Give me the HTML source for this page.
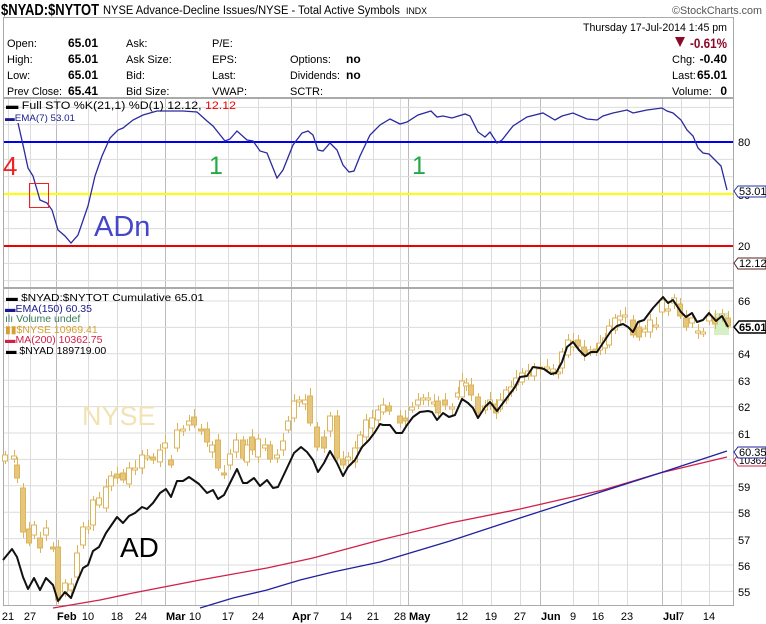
<!DOCTYPE html>
<html><head><meta charset="utf-8"><style>
body{margin:0;background:#fff;width:766px;height:624px;overflow:hidden}
svg{display:block}
text{font-family:"Liberation Sans",sans-serif}
</style></head><body>
<svg id="s" width="766" height="624" viewBox="0 0 766 624" xmlns="http://www.w3.org/2000/svg">
<g id="grid" stroke="#dcdcdc" stroke-width="1"></g>
<text x="1" y="15" font-size="16" font-weight="bold" textLength="98" lengthAdjust="spacingAndGlyphs">$NYAD:$NYTOT</text>
<text x="103" y="14" font-size="11.5" textLength="297" lengthAdjust="spacingAndGlyphs">NYSE Advance-Decline Issues/NYSE - Total Active Symbols</text>
<text x="406" y="14" font-size="9" textLength="21" lengthAdjust="spacingAndGlyphs">INDX</text>
<text x="672" y="14" font-size="11" fill="#555" textLength="90" lengthAdjust="spacingAndGlyphs">©StockCharts.com</text>
<rect x="3.5" y="17.5" width="730" height="80" fill="none" stroke="#aaa"/>
<g font-size="11">
<text x="583" y="31" textLength="144" lengthAdjust="spacingAndGlyphs">Thursday  17-Jul-2014  1:45 pm</text>
<text x="7" y="47">Open:</text>
<text x="7" y="63">High:</text>
<text x="7" y="79">Low:</text>
<text x="7" y="95" textLength="55" lengthAdjust="spacingAndGlyphs">Prev Close:</text>
<text x="68" y="47" font-weight="bold" font-size="12">65.01</text>
<text x="68" y="63" font-weight="bold" font-size="12">65.01</text>
<text x="68" y="79" font-weight="bold" font-size="12">65.01</text>
<text x="68" y="95" font-weight="bold" font-size="12">65.41</text>
<text x="126" y="47">Ask:</text><text x="126" y="63">Ask Size:</text><text x="126" y="79">Bid:</text><text x="126" y="95">Bid Size:</text>
<text x="212" y="47">P/E:</text><text x="212" y="63">EPS:</text><text x="212" y="79">Last:</text><text x="212" y="95">VWAP:</text>
<text x="290" y="63">Options:</text><text x="346" y="63" font-weight="bold" font-size="12">no</text>
<text x="290" y="79" textLength="50" lengthAdjust="spacingAndGlyphs">Dividends:</text><text x="346" y="79" font-weight="bold" font-size="12">no</text>
<text x="290" y="95">SCTR:</text>
<text x="672" y="63">Chg:</text><text x="727" y="63" font-weight="bold" font-size="12" text-anchor="end">-0.40</text>
<text x="672" y="79">Last:</text><text x="727" y="79" font-weight="bold" font-size="12" text-anchor="end">65.01</text>
<text x="672" y="95">Volume:</text><text x="727" y="95" font-weight="bold" font-size="12" text-anchor="end">0</text>
<text x="690" y="48" font-weight="bold" font-size="14" fill="#8b0a2a" textLength="37" lengthAdjust="spacingAndGlyphs">-0.61%</text>
</g>
<polygon points="675,37 685,37 680,47" fill="#8b0a2a"/>
<rect x="3.5" y="98.5" width="730" height="189" fill="none" stroke="#aaa"/>
<rect x="3.5" y="288.5" width="730" height="317" fill="none" stroke="#aaa"/>
<line x1="4" y1="142" x2="733" y2="142" stroke="#0000ee" stroke-width="2"/>
<line x1="4" y1="194" x2="733" y2="194" stroke="#ffff00" stroke-width="2"/>
<line x1="4" y1="246" x2="733" y2="246" stroke="#ee0000" stroke-width="2"/>
<polyline fill="none" stroke="#2a2aa0" stroke-width="1.3" points="18,123 23,145 28,168 33,176 40,200 47,203 52,210 58,230 65,236 71,243 78,235 88,206 95,176 102,156 110,138 118,130 123,128 133,120 143,115 157,111 170,111 183,111 197,112 207,121 213,126 225,141 230,139 237,131 247,140 253,141 260,151 267,153 277,178 283,170 293,145 302,133 308,131 313,135 318,150 323,151 330,143 337,150 343,165 349,172 354,171 360,156 370,135 380,125 390,119 400,124 407,122 418,115 431,111 437,117 443,116 452,118 465,114 470,116 478,132 485,137 490,132 497,143 502,140 513,126 527,117 543,113 555,120 562,116 573,113 587,119 597,120 603,116 613,113 627,110 633,113 647,110 662,108 667,111 673,113 681,120 687,130 693,136 698,148 703,153 709,154 721,166 727,190"/>
<text x="6" y="109" font-size="11" font-family="DejaVu Sans,sans-serif" textLength="230" lengthAdjust="spacingAndGlyphs">▬ Full STO %K(21,1) %D(1) 12.12, <tspan fill="#e00">12.12</tspan></text>
<text x="5" y="121" font-size="9.5" fill="#1a1a90" font-family="DejaVu Sans,sans-serif" textLength="70" lengthAdjust="spacingAndGlyphs">▬EMA(7) 53.01</text>
<text x="3" y="175" font-size="26" fill="#ee2222">4</text>
<text x="209" y="174" font-size="25" fill="#22aa44">1</text>
<text x="412" y="174" font-size="25" fill="#22aa44">1</text>
<text x="94" y="236" font-size="29" fill="#4646c8">ADn</text>
<rect x="29.5" y="183.5" width="19" height="24" fill="none" stroke="#e22" stroke-width="1"/>
<g font-size="11" font-family="DejaVu Sans,sans-serif">
<text x="738" y="146">80</text><text x="738" y="199">50</text><text x="738" y="250">20</text>
</g>
<path d="M734,191 l4,-5 h28 v11 h-28z" fill="#fff" stroke="#2233aa"/><text x="739" y="195" font-size="11" font-family="DejaVu Sans,sans-serif">53.01</text>
<path d="M734,263 l4,-5 h28 v11 h-28z" fill="#fff" stroke="#552222"/><text x="739" y="267" font-size="11" font-family="DejaVu Sans,sans-serif">12.12</text>
<text x="82" y="425" font-size="27" fill="#f2e2b4">NYSE</text>
<rect x="714" y="313" width="15" height="22" fill="#d6f0c6"/>
<g id="candles"></g>
<polyline fill="none" stroke="#d0204a" stroke-width="1.3" points="53,608 100,600 133,593 200,580 267,568 313,558 380,540 450,523 520,509 603,490 660,473 727,457"/>
<polyline fill="none" stroke="#2020a0" stroke-width="1.3" points="200,608 233,598 267,590 300,580 333,572 380,562 450,541 520,518 607,490 660,473 727,451"/>
<polyline fill="none" stroke="#111" stroke-width="2" stroke-linejoin="round" points="3,560 12,549 17,557 23,577 28,589 34,578 40,590 46,578 53,585 58,601 65,592 71,598 77,582 83,568 88,565 93,551 99,547 106,533 117,517 123,523 129,516 135,513 142,507 147,509 153,503 160,493 166,489 171,497 177,481 183,481 189,477 199,484 207,493 213,490 218,499 224,495 230,483 237,469 243,483 247,483 254,478 260,486 267,480 273,488 278,487 287,468 294,453 301,447 307,452 313,460 318,472 324,463 330,451 337,463 343,476 348,467 355,460 362,447 369,440 375,432 380,424 383,425 390,425 396,433 402,433 407,425 413,417 420,412 428,411 432,412 437,420 443,413 449,417 455,415 462,399 468,403 473,408 478,418 485,407 490,402 497,411 503,403 509,395 515,387 520,377 527,376 533,367 540,368 544,369 551,374 556,373 562,362 567,347 573,342 579,350 585,356 591,352 597,352 603,343 611,331 617,326 623,324 628,327 633,332 638,322 644,320 653,308 663,297 668,303 673,300 681,312 686,317 692,313 697,322 703,320 709,313 716,321 722,316 728,327"/>
<text x="120" y="557" font-size="28">AD</text>
<g font-size="10.5" font-family="DejaVu Sans,sans-serif">
<text x="6" y="301" textLength="198" lengthAdjust="spacingAndGlyphs">▬ $NYAD:$NYTOT Cumulative 65.01</text>
<text x="5" y="312" fill="#1a1a90">▬EMA(150) 60.35</text>
<text x="5" y="322" fill="#3a7a5a">ılı Volume undef</text>
<text x="5" y="333" fill="#d4a030">▮▮$NYSE 10969.41</text>
<text x="5" y="343" fill="#d0204a">▬MA(200) 10362.75</text>
<text x="6" y="354">▬ $NYAD 189719.00</text>
</g>
<g font-size="11" font-family="DejaVu Sans,sans-serif">
<text x="738" y="305">66</text><text x="738" y="358">64</text><text x="738" y="385">63</text><text x="738" y="411">62</text><text x="738" y="438">61</text><text x="738" y="491">59</text><text x="738" y="517">58</text><text x="738" y="544">57</text><text x="738" y="570">56</text><text x="738" y="596">55</text>
</g>
<path d="M734,460 l4,-5 h28 v11 h-28z" fill="#fff" stroke="#d0204a"/><text x="739" y="464" font-size="10" font-family="DejaVu Sans,sans-serif">10362</text>
<path d="M734,452 l4,-5 h28 v11 h-28z" fill="#fff" stroke="#2020a0"/><text x="739" y="456" font-size="11" font-family="DejaVu Sans,sans-serif">60.35</text>
<path d="M734,327 l5,-6 h27 v12 h-27z" fill="#fff" stroke="#000" stroke-width="1.5"/><text x="739" y="331" font-size="11" font-weight="bold" font-family="DejaVu Sans,sans-serif">65.01</text>
<g id="xl" font-size="11" font-family="DejaVu Sans,sans-serif"></g>
</svg>
<script>
var ns="http://www.w3.org/2000/svg";
function el(p,t,a,txt){var e=document.createElementNS(ns,t);for(var k in a)e.setAttribute(k,a[k]);if(txt)e.textContent=txt;document.getElementById(p).appendChild(e);return e;}
var ticks=[[8,"21"],[30,"27"],[56,"Feb",1],[88,"10"],[117,"18"],[141,"24"],[165,"Mar",1],[195,"10"],[228,"17"],[258,"24"],[291,"Apr",1],[316,"7"],[346,"14"],[373,"21"],[400,"28"],[408,"May",1],[462,"12"],[491,"19"],[520,"27"],[540,"Jun",1],[573,"9"],[598,"16"],[627,"23"],[662,"Jul",1],[681,"7"],[709,"14"]];
ticks.forEach(function(t){
 var c=t[2]?"#bbb":"#dcdcdc";
 el("grid","line",{x1:t[0]+.5,x2:t[0]+.5,y1:99,y2:287,stroke:c});
 el("grid","line",{x1:t[0]+.5,x2:t[0]+.5,y1:289,y2:605,stroke:c});
 var a={x:t[2]?t[0]+1:t[0],y:620,"text-anchor":t[2]?"start":"middle"};
 if(t[2])a["font-weight"]="bold";
 el("xl","text",a,t[1]);
});
for(var v=0;v<=100;v+=10){var y=142+(80-v)*1.7333;if(y>99&&y<287)el("grid","line",{x1:4,x2:733,y1:y,y2:y});}
for(var v=54;v<=67;v++){var y=301+(66-v)*26.4;if(y>289&&y<605)el("grid","line",{x1:4,x2:733,y1:y,y2:y});}
var C="5,455,461,0;14,456,459,0;17,465,478,1;23,488,532,1;29,529,543,1;34,525,535,0;40,538,548,1;46,528,535,0;53,547,549,1;58,547,600,1;65,583,592,0;71,584,590,0;77,553,577,0;83,527,545,0;88,527,529,0;93,500,525,0;99,498,505,0;106,487,508,0;111,476,486,0;117,474,478,1;123,473,480,1;129,468,484,0;135,468,470,0;142,455,468,0;147,456,458,0;153,457,460,1;160,450,462,0;165,443,448,0;171,460,465,1;177,430,448,0;183,429,431,0;189,421,425,0;194,417,425,1;201,429,431,1;207,429,442,1;212,445,452,0;218,440,468,1;224,473,475,1;230,454,465,0;236,440,452,0;243,440,458,1;247,445,462,0;252,437,450,1;258,439,457,0;265,445,448,0;270,445,459,1;277,455,458,0;283,441,450,0;288,421,430,0;294,401,418,0;299,400,402,0;305,400,404,0;310,396,423,1;317,427,447,1;324,437,448,1;330,416,431,0;337,416,458,1;343,459,465,1;348,457,460,0;355,448,462,0;360,435,448,0;366,420,437,0;372,418,428,0;378,410,420,0;383,405,412,0;389,406,411,1;400,416,423,1;405,418,421,1;412,407,410,0;418,400,405,0;423,398,400,0;428,398,400,0;434,402,404,0;438,401,413,1;445,400,405,1;452,407,409,0;458,393,397,0;462,381,397,0;466,383,386,0;471,385,395,1;478,397,413,1;485,406,410,0;490,400,405,0;496,404,413,1;500,400,409,0;506,390,400,0;511,387,392,0;516,378,385,0;522,373,382,0;528,371,376,0;534,367,376,0;540,367,369,0;547,367,369,0;553,369,372,0;558,372,374,0;562,352,368,0;568,340,355,0;573,341,347,0;578,340,346,1;584,347,355,1;590,350,353,0;596,349,352,1;600,343,350,0;605,338,348,0;609,326,345,0;615,318,330,0;620,316,320,0;625,315,317,0;633,320,335,1;639,327,337,1;645,329,332,0;650,320,332,0;656,325,327,0;662,300,312,0;668,309,311,0;674,298,303,0;680,304,316,1;686,318,327,1;692,318,323,0;698,331,333,0;703,332,334,0;709,316,321,0;715,318,324,1;722,314,316,0;728,318,326,1";
C.split(";").forEach(function(s,i){var p=s.split(",").map(Number);var w=4+(i*7%5),x=p[0];
 el("candles","line",{x1:x+.5,x2:x+.5,y1:p[1]-w,y2:p[2]+3+(i%4),stroke:"#dcb45a"});
 el("candles","rect",{x:x-2.5,y:p[1],width:5,height:Math.max(1,p[2]-p[1]),fill:p[3]?"#e6c67c":"#fff",stroke:"#dcb45a"});
});
</script>
</body></html>
